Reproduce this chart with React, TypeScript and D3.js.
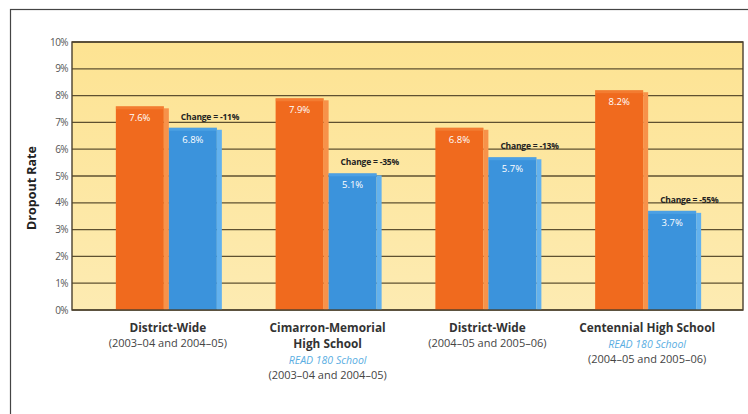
import React from "react";
import * as d3 from "d3";

// Dropout rates (%) for each comparison: earlier year vs. later year
const groups = ["g1", "g2", "g3", "g4"];
const titleLines = ["District-Wide", "Cimarron-Memorial|High School", "District-Wide", "Centennial High School"];
const read180 = [false, true, false, true];
const yearLines = [
  "(2003–04 and 2004–05)",
  "(2003–04 and 2004–05)",
  "(2004–05 and 2005–06)",
  "(2004–05 and 2005–06)",
];
const before = [7.6, 7.9, 6.8, 8.2];
const after = [6.8, 5.1, 5.7, 3.7];
const changes = ["-11%", "-35%", "-13%", "-55%"];
const yTicks = [0, 1, 2, 3, 4, 5, 6, 7, 8, 9, 10];

const W = 748;
const H = 414;
const plot = { left: 72, right: 743, top: 42, bottom: 310 };

const ORANGE = "#f06a1e";
const ORANGE_SIDE = "#f7924a";
const BLUE = "#3b93dc";
const BLUE_SIDE = "#62b1ee";
const FONT = "'Open Sans', 'Noto Sans', Arial, sans-serif";

export default function App() {
  const x = d3.scalePoint<string>().domain(groups).range([plot.left, plot.right]).padding(0.6);
  const y = d3.scaleLinear().domain([0, 10]).range([plot.bottom, plot.top]);
  const sub = d3.scaleBand<string>().domain(["before", "after"]).range([-52, 54]).padding(0);
  const bw = sub.bandwidth();
  const side = 5;

  const bar = (cx: number, key: string, v: number, main: string, light: string) => {
    const x0 = cx + (sub(key) as number);
    const top = y(v);
    return (
      <g>
        <rect x={x0} y={top} width={bw - side} height={plot.bottom - top} fill={main} />
        <rect x={x0 + bw - side} y={top + 2} width={side} height={plot.bottom - top - 2} fill={light} />
        <rect x={x0} y={top} width={bw - side} height={3} fill={light} opacity={0.45} />
        <text
          x={x0 + (bw - side) / 2}
          y={top + 15}
          textAnchor="middle"
          fontSize={9.5}
          fill="#fff"
          fontFamily={FONT}
        >
          {v.toFixed(1)}%
        </text>
      </g>
    );
  };

  return (
    <svg width={W} height={H} style={{ position: "absolute", left: 0, top: 0, background: "#fff" }}>
      <defs>
        <linearGradient id="bg" x1="0" y1="0" x2="0" y2="1">
          <stop offset="0" stopColor="#fde392" />
          <stop offset="1" stopColor="#fdebb2" />
        </linearGradient>
      </defs>
      <rect x={10.5} y={9.5} width={W} height={H} fill="none" stroke="#444" strokeWidth={1.2} />

      <rect
        x={plot.left}
        y={plot.top}
        width={plot.right - plot.left}
        height={plot.bottom - plot.top}
        fill="url(#bg)"
      />
      {yTicks.map((t) => (
        <g key={t}>
          <line x1={plot.left} x2={plot.right} y1={y(t)} y2={y(t)} stroke="#5e5030" strokeWidth={1.3} />
          <text
            x={plot.left - 4}
            y={y(t) + 3.5}
            textAnchor="end"
            fontSize={10}
            fill="#555"
            fontFamily={FONT}
            letterSpacing={-0.6}
          >
            {t}%
          </text>
        </g>
      ))}

      {groups.map((g, i) => {
        const cx = x(g) as number;
        const bx = cx + (sub("after") as number);
        return (
          <g key={g}>
            {bar(cx, "before", before[i], ORANGE, ORANGE_SIDE)}
            {bar(cx, "after", after[i], BLUE, BLUE_SIDE)}
            <text x={bx + 12} y={y(after[i]) - 8} fontSize={8.5} fontWeight={700} fill="#222" fontFamily={FONT} letterSpacing={-0.2}>
              Change = {changes[i]}
            </text>
          </g>
        );
      })}

      <rect
        x={plot.left}
        y={plot.top}
        width={plot.right - plot.left}
        height={plot.bottom - plot.top}
        fill="none"
        stroke="#4a4030"
        strokeWidth={1.4}
      />

      <text
        transform="translate(36,188) rotate(-90)"
        textAnchor="middle"
        fontSize={12.5}
        fontWeight={700}
        fill="#222"
        fontFamily={FONT}
      >
        Dropout Rate
      </text>

      {groups.map((g, i) => {
        const cx = x(g) as number;
        const lines = titleLines[i].split("|");
        let ly = 332;
        const out: React.ReactNode[] = [];
        lines.forEach((l, k) => {
          out.push(
            <text key={"t" + k} x={cx} y={ly} textAnchor="middle" fontSize={11.8} fontWeight={700} fill="#333" fontFamily={FONT}>
              {l}
            </text>
          );
          ly += 16;
        });
        if (read180[i]) {
          out.push(
            <text key="r" x={cx} y={ly} textAnchor="middle" fontSize={10.5} fontStyle="italic" fill="#5aaee2" fontFamily={FONT}>
              READ 180 School
            </text>
          );
          ly += 16;
        }
        out.push(
          <text key="y" x={cx} y={ly - 1} textAnchor="middle" fontSize={11} fill="#444" fontFamily={FONT}>
            {yearLines[i]}
          </text>
        );
        return <g key={g}>{out}</g>;
      })}
    </svg>
  );
}
